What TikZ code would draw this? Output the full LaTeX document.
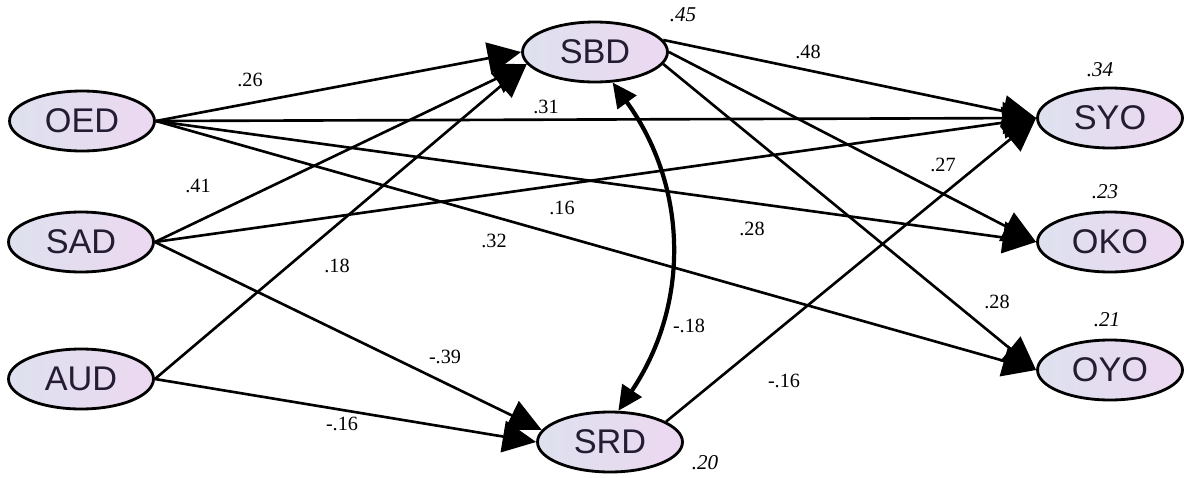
\documentclass[tikz,border=0pt]{standalone}
\usepackage{fontspec}
\setmainfont{Liberation Serif}
\newfontfamily\arialfont{Liberation Sans}
\usetikzlibrary{arrows.meta,shapes.geometric}

\definecolor{varleft}{RGB}{222,225,238}
\definecolor{varright}{RGB}{236,216,241}
\definecolor{vartext}{RGB}{36,28,50}

\tikzset{
  latent/.style={ellipse, draw, line width=1.6pt, minimum width=2.9cm, minimum height=1.2cm,
    inner sep=0pt, left color=varleft, right color=varright, text=vartext,
    font=\arialfont\fontsize{19.5}{22}\selectfont},
  effect/.style={line width=1.5pt, -{Triangle[length=19pt,width=18pt]}},
  corr/.style={line width=2.4pt, {Triangle[length=14pt,width=13pt]}-{Triangle[length=14pt,width=13pt]}},
  coef/.style={font=\fontsize{11.5}{13}\selectfont},
  rsq/.style={font=\itshape\fontsize{12}{14}\selectfont}
}

\begin{document}
\begin{tikzpicture}[x=0.02cm, y=-0.02cm]
\useasboundingbox (0,0) rectangle (1184,477);

% Variables
\node[latent] (OED) at (82,121) {OED};
\node[latent] (SAD) at (81,242) {SAD};
\node[latent] (AUD) at (81,379) {AUD};
\node[latent] (SBD) at (595,52) {SBD};
\node[latent] (SRD) at (610,442) {SRD};
\node[latent] (SYO) at (1110,118) {SYO};
\node[latent] (OKO) at (1110,242) {OKO};
\node[latent] (OYO) at (1110,370) {OYO};

% OED paths
\draw[effect] (OED.east) -- (SBD.west);
\draw[effect] (OED.east) -- (SYO.west);
\draw[effect] (OED.east) -- (OKO.west);
\draw[effect] (OED.east) -- (OYO.west);

% SAD paths
\draw[effect] (SAD.east) -- (SBD.190);
\draw[effect] (SAD.east) -- (SYO.west);
\draw[effect] (SAD.east) -- (SRD.170);

% AUD paths
\draw[effect] (AUD.east) -- (SBD.190);
\draw[effect] (AUD.east) -- (SRD.west);

% SBD and SRD paths
\draw[effect] (SBD.10) -- (SYO.west);
\draw[effect] (SBD.east) -- (OKO.west);
\draw[effect] (SBD.-10) -- (OYO.west);
\draw[effect] (SRD.20) -- (SYO.west);

% Covariance
\draw[corr] (SBD.-60) to[bend left=35] (SRD.75);

% Coefficients
\node[coef] (cOEDSBD) at (250,80) {.26};
\node[coef] (cOEDSYO) at (546,107) {.31};
\node[coef] (cSADSBD) at (198,186) {.41};
\node[coef] (cSADSYO) at (562,208) {.16};
\node[coef] (cOEDOYO) at (494,241) {.32};
\node[coef] (cAUDSBD) at (337,266) {.18};
\node[coef] (cOEDOKO) at (752,229) {.28};
\node[coef] (cSBDOKO) at (943,165) {.27};
\node[coef] (cSBDSYO) at (808,52) {.48};
\node[coef] (cSBDOYO) at (997,302) {.28};
\node[coef] (cSADSRD) at (445,357) {-.39};
\node[coef] (cSBDSRD) at (689,326) {-.18};
\node[coef] (cAUDSRD) at (342,424) {-.16};
\node[coef] (cSRDSYO) at (784,381) {-.16};

% Explained variance
\node[rsq] (rSBD) at (683,15) {.45};
\node[rsq] (rSYO) at (1100,70) {.34};
\node[rsq] (rOKO) at (1105,192) {.23};
\node[rsq] (rOYO) at (1107,320) {.21};
\node[rsq] (rSRD) at (705,463) {.20};

\end{tikzpicture}
\end{document}
